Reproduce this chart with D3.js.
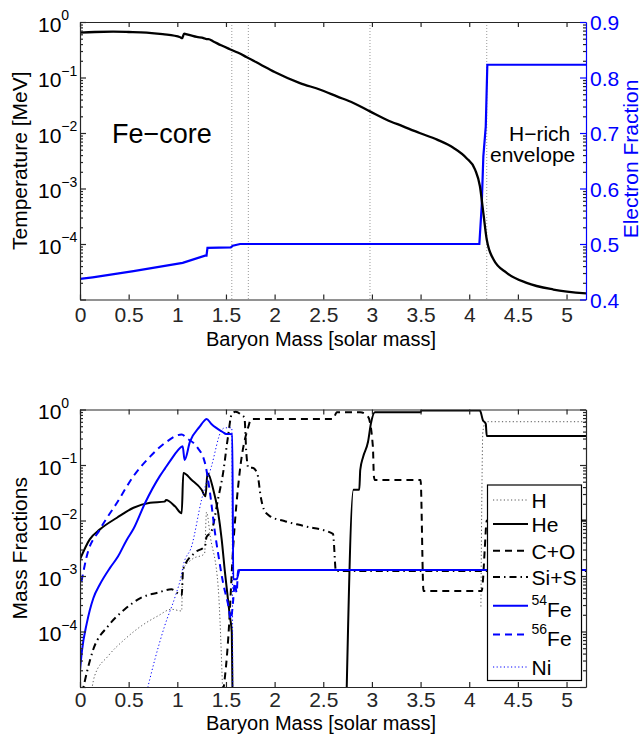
<!DOCTYPE html>
<html>
<head>
<meta charset="utf-8">
<script src="https://cdn.jsdelivr.net/npm/d3@7"></script>
<style>
  body { margin: 0; background: #fff; }
  svg { display: block; font-family: "Liberation Sans", Arial, Helvetica, sans-serif; }
</style>
</head>
<body>
<div id="chart"></div>
<script>
// ---------- values ----------
// mass coordinate in solar masses, temperatures / fractions stored as log10
const massTicks = [0, 0.5, 1, 1.5, 2, 2.5, 3, 3.5, 4, 4.5, 5];
const yeTicks = [0.4, 0.5, 0.6, 0.7, 0.8, 0.9];
const decadeExps = [-4, -3, -2, -1, 0];
const shellEdges = [1.56, 1.73, 2.98, 4.18];

const tempLog = [[0,-0.19],[0.15,-0.18],[0.34,-0.175],[0.5,-0.18],[0.685,-0.19],[0.85,-0.22],
  [1.03,-0.275],[1.05,-0.29],[1.07,-0.21],[1.08,-0.215],[1.2,-0.27],[1.27,-0.29],[1.30,-0.31],
  [1.32,-0.31],[1.37,-0.35],[1.45,-0.42],[1.54,-0.49],[1.62,-0.55],[1.71,-0.63],[1.85,-0.76],
  [2.0,-0.9],[2.26,-1.1],[2.47,-1.22],[2.64,-1.34],[2.81,-1.46],[2.98,-1.61],[3.15,-1.76],
  [3.32,-1.88],[3.49,-2.0],[3.67,-2.12],[3.84,-2.27],[3.97,-2.45],[4.06,-2.66],[4.11,-2.96],
  [4.145,-3.44],[4.18,-3.92],[4.25,-4.28],[4.385,-4.52],[4.59,-4.70],[4.865,-4.82],[5.2,-4.89]];

const yeVals = [[0,0.437],[0.13,0.44],[0.55,0.451],[1.055,0.466],[1.285,0.479],[1.30,0.479],
  [1.31,0.493],[1.55,0.494],[1.57,0.497],[1.645,0.5],[4.104,0.5],[4.128,0.568],[4.145,0.658],
  [4.17,0.712],[4.186,0.823],[5.2,0.823]];

const hLog = [[0.1,-5.3],[0.15,-4.8],[0.29,-4.44],[0.46,-4.14],[0.63,-3.9],[0.80,-3.72],[0.94,-3.6],
  [1.045,-3.63],[1.055,-2.9],[1.15,-2.7],[1.28,-2.6],[1.30,-1.85],[1.34,-2.3],[1.42,-3.2],[1.47,-5.3],
  null,[4.12,-3.55],[4.13,-1.5],[4.14,-0.4],[4.17,-0.22],[5.2,-0.22]];

const heLog = [[0,-2.7],[0.1,-2.34],[0.205,-2.16],[0.38,-1.95],[0.55,-1.77],[0.72,-1.68],[0.87,-1.66],
  [0.885,-1.63],[0.976,-1.745],[1.045,-1.87],[1.062,-1.145],[1.148,-1.27],[1.25,-1.445],[1.29,-1.565],
  [1.31,-1.145],[1.37,-1.445],[1.42,-1.86],[1.456,-2.34],[1.49,-2.94],[1.54,-3.72],[1.56,-4.02],
  [1.57,-5.5],null,[2.735,-5.5],[2.81,-1.445],[2.87,-1.445],[2.88,-1.09],[2.91,-0.85],[2.96,-0.58],
  [2.99,-0.25],[3.03,-0.05],[3.5,-0.05],[3.51,-0.02],[4.11,-0.02],[4.14,-0.19],[4.17,-0.26],
  [4.18,-0.476],[5.2,-0.476]];

const coLog = [[1.43,-5.5],[1.525,-4.08],[1.575,-2.46],[1.64,-1.145],[1.73,-0.31],[1.76,-0.17],
  [2.6,-0.17],[2.64,-0.05],[2.88,-0.05],[2.96,-0.13],[3.01,-0.67],[3.02,-1.2],[3.03,-1.27],
  [3.50,-1.27],[3.53,-3.27],[4.128,-3.27],[4.14,-3.1],[4.16,-2.5],[4.18,-2.0],[5.2,-2.0]];

const sisLog = [[0.01,-5.2],[0.137,-4.32],[0.29,-3.9],[0.46,-3.6],[0.63,-3.39],[0.80,-3.30],
  [0.94,-3.24],[1.045,-3.35],[1.06,-2.88],[1.18,-2.58],[1.285,-2.46],[1.30,-2.3],[1.35,-2.2],
  [1.42,-1.6],[1.47,-1.15],[1.52,-0.5],[1.56,-0.08],[1.60,-0.04],[1.66,-0.1],[1.69,-0.15],
  [1.71,-0.8],[1.73,-1.05],[1.77,-1.05],[1.82,-1.14],[1.86,-1.6],[1.89,-1.8],[1.95,-1.92],
  [2.1,-2.01],[2.3,-2.1],[2.6,-2.24],[2.63,-2.91],[5.2,-2.91]];

const fe54Log = [[0,-4.7],[0.02,-4.35],[0.07,-3.85],[0.137,-3.4],[0.205,-3.15],[0.31,-2.85],
  [0.39,-2.65],[0.48,-2.35],[0.55,-2.15],[0.67,-1.68],[0.82,-1.2],[0.874,-1.06],[0.925,-0.93],
  [1.045,-0.67],[1.055,-0.66],[1.075,-0.91],[1.13,-0.58],[1.23,-0.31],[1.29,-0.18],[1.30,-0.17],
  [1.35,-0.26],[1.47,-0.41],[1.50,-0.44],[1.565,-0.445],[1.575,-3.06],[1.61,-3.06],[1.64,-2.89],
  [5.2,-2.89]];

const fe56Log = [[0.015,-3.1],[0.07,-2.64],[0.205,-2.16],[0.38,-1.68],[0.55,-1.2],[0.72,-0.85],
  [0.89,-0.58],[1.045,-0.45],[1.1,-0.52],[1.2,-0.67],[1.285,-0.97],[1.336,-1.5],[1.387,-2.22],
  [1.42,-2.6],[1.47,-3.12],[1.525,-3.54],[1.55,-3.78],[1.575,-3.42],[1.59,-3.12],[1.61,-3.3],
  [1.625,-2.89],[5.2,-2.89]];

const niLog = [[0.67,-5.2],[0.77,-4.5],[0.87,-3.9],[0.98,-3.36],[1.04,-3.0],[1.06,-2.82],
  [1.148,-2.46],[1.25,-1.62],[1.35,-1.03],[1.456,-0.37],[1.49,-0.33],[1.56,-0.33],[1.57,-5.5]];

const speciesLabels = [["", "H"], ["", "He"], ["", "C+O"], ["", "Si+S"], ["54", "Fe"], ["56", "Fe"], ["", "Ni"]];

// ---------- layout ----------
const W = 642, H = 734;
const L = 80, R = 586;
const top1 = 22, bot1 = 299.5;
const top2 = 409.5, bot2 = 687;
const blue = "#0000ff", axisCol = "#262626";

let svg = d3.select("#chart").append("svg")
  .attr("width", W).attr("height", H);

let x = d3.scaleLinear().domain([0, 5.2]).range([L, R]);
let yT = d3.scaleLog().domain([1e-5, 1]).range([bot1, top1]);
let yYe = d3.scaleLinear().domain([0.4, 0.9]).range([bot1, top1]);
let yM = d3.scaleLog().domain([1e-5, 1]).range([bot2, top2]);

// minor log ticks 2..9 in each decade
let minorTicks = [];
for (let e = -5; e < 0; e++) for (let m = 2; m <= 9; m++) minorTicks.push(m * Math.pow(10, e));
let decadeTicks = [1e-5, 1e-4, 1e-3, 1e-2, 1e-1, 1];

function styleAxis(g, col) {
  g.attr("font-size", 21).attr("font-family", null).attr("color", col || axisCol);
  g.selectAll("path, line").attr("stroke-width", 1.2);
  return g;
}

// x axes (bottom labelled, top bare) and log y axes mirrored left/right
function frame(y, top, bot, xPadding, mirrorMajors) {
  styleAxis(svg.append("g").attr("transform", `translate(0,${bot})`)
    .call(d3.axisBottom(x).tickValues(massTicks).tickSize(-5).tickSizeOuter(0)
      .tickPadding(xPadding).tickFormat(d => d)));
  styleAxis(svg.append("g").attr("transform", `translate(0,${top})`)
    .call(d3.axisTop(x).tickValues(massTicks).tickSize(-5).tickSizeOuter(0).tickFormat("")));
  styleAxis(svg.append("g").attr("transform", `translate(${L},0)`)
    .call(d3.axisLeft(y).tickValues(decadeTicks).tickSize(-6).tickSizeOuter(0).tickFormat("")));
  styleAxis(svg.append("g").attr("transform", `translate(${L},0)`)
    .call(d3.axisLeft(y).tickValues(minorTicks).tickSize(-3).tickSizeOuter(0).tickFormat("")))
    .select(".domain").remove();
  if (mirrorMajors) {
    styleAxis(svg.append("g").attr("transform", `translate(${R},0)`)
      .call(d3.axisRight(y).tickValues(decadeTicks).tickSize(-6).tickSizeOuter(0).tickFormat("")));
  }
  styleAxis(svg.append("g").attr("transform", `translate(${R},0)`)
    .call(d3.axisRight(y).tickValues(minorTicks).tickSize(-3).tickSizeOuter(0).tickFormat("")))
    .select(".domain").remove();

  // 10^n labels
  decadeExps.forEach(e => {
    let t = svg.append("text")
      .attr("x", 38).attr("y", y(Math.pow(10, e)) + 9.5)
      .attr("font-size", 21).attr("fill", "#000");
    t.append("tspan").text("10");
    t.append("tspan").attr("dy", -11.5).attr("font-size", 14)
      .text(e === 0 ? "0" : "\u2212" + (-e));
  });
}

svg.append("clipPath").attr("id", "clip1").append("rect")
  .attr("x", L).attr("y", top1).attr("width", R - L).attr("height", bot1 - top1);
svg.append("clipPath").attr("id", "clip2").append("rect")
  .attr("x", L).attr("y", top2).attr("width", R - L).attr("height", bot2 - top2);

// ---------- top panel ----------
let p1 = svg.append("g").attr("clip-path", "url(#clip1)");

p1.selectAll(".shell").data(shellEdges).enter().append("line")
  .attr("x1", d => x(d)).attr("x2", d => x(d))
  .attr("y1", top1).attr("y2", bot1)
  .attr("stroke", "#999").attr("stroke-width", 1).attr("stroke-dasharray", "1,2");

p1.append("path").datum(yeVals)
  .attr("fill", "none").attr("stroke", blue).attr("stroke-width", 2.2)
  .attr("d", d3.line().x(d => x(d[0])).y(d => yYe(d[1])));

p1.append("path").datum(tempLog)
  .attr("fill", "none").attr("stroke", "#000").attr("stroke-width", 2.3)
  .attr("stroke-linejoin", "round")
  .attr("d", d3.line().curve(d3.curveMonotoneX).x(d => x(d[0])).y(d => yT(Math.pow(10, d[1]))));

frame(yT, top1, bot1, 8, false);

// blue electron-fraction axis on the right
let yeAxis = styleAxis(svg.append("g").attr("transform", `translate(${R},0)`)
  .call(d3.axisRight(yYe).tickValues(yeTicks).tickSize(-6).tickSizeOuter(0)
    .tickPadding(4).tickFormat(d3.format(".1f"))), blue);
yeAxis.selectAll("text").attr("dy", "0.38em");

svg.append("text").attr("transform", `translate(27,${(top1 + bot1) / 2}) rotate(-90)`)
  .attr("text-anchor", "middle").attr("font-size", 21).text("Temperature [MeV]");
svg.append("text").attr("transform", `translate(638,159) rotate(-90)`)
  .attr("text-anchor", "middle").attr("font-size", 21).attr("fill", blue).text("Electron Fraction");
svg.append("text").attr("x", 321).attr("y", 346)
  .attr("text-anchor", "middle").attr("font-size", 20).text("Baryon Mass [solar mass]");

svg.append("text").attr("x", 112).attr("y", 143).attr("font-size", 27).text("Fe\u2212core");
svg.append("text").attr("x", 509).attr("y", 140.5).attr("font-size", 21).text("H\u2212rich");
svg.append("text").attr("x", 490).attr("y", 162).attr("font-size", 21).text("envelope");

// ---------- bottom panel ----------
let p2 = svg.append("g").attr("clip-path", "url(#clip2)");

let species = [
  { data: hLog, color: "#555", width: 1, dash: "1.2,2.4" },
  { data: heLog, color: "#000", width: 2, dash: null },
  { data: coLog, color: "#000", width: 2, dash: "7,5" },
  { data: sisLog, color: "#000", width: 2, dash: "7,4,1.5,4" },
  { data: fe54Log, color: blue, width: 2, dash: null },
  { data: fe56Log, color: blue, width: 2, dash: "7,5" },
  { data: niLog, color: blue, width: 1, dash: "1.2,2.4" }
];

let lineM = d3.line().defined(d => d !== null).curve(d3.curveMonotoneX)
  .x(d => x(d[0])).y(d => yM(Math.pow(10, d[1])));

species.forEach(s => {
  p2.append("path").datum(s.data)
    .attr("fill", "none").attr("stroke", s.color).attr("stroke-width", s.width)
    .attr("stroke-dasharray", s.dash).attr("stroke-linejoin", "round")
    .attr("d", lineM);
});

frame(yM, top2, bot2, 5, true);

svg.append("text").attr("transform", `translate(27,${(top2 + bot2) / 2}) rotate(-90)`)
  .attr("text-anchor", "middle").attr("font-size", 21).text("Mass Fractions");
svg.append("text").attr("x", 321).attr("y", 729.8)
  .attr("text-anchor", "middle").attr("font-size", 20).text("Baryon Mass [solar mass]");

// legend
const legendRowY = [500, 524, 550.7, 577, 605.7, 634.5, 667];
let lg = svg.append("g");
lg.append("rect").attr("x", 487.5).attr("y", 485).attr("width", 94).attr("height", 195.5)
  .attr("fill", "#fff").attr("stroke", "#000").attr("stroke-width", 1.2);
species.forEach((s, i) => {
  let yy = legendRowY[i];
  lg.append("line").attr("x1", 493).attr("x2", 528).attr("y1", yy).attr("y2", yy)
    .attr("stroke", s.color).attr("stroke-width", s.width).attr("stroke-dasharray", s.dash);
  let sup = speciesLabels[i][0];
  let t = lg.append("text").attr("x", 531.5).attr("font-size", 21)
    .attr("y", yy + (sup ? 11.5 : 8));
  if (sup) {
    t.append("tspan").attr("font-size", 14).attr("dy", -12).text(sup);
    t.append("tspan").attr("dy", 12).text(speciesLabels[i][1]);
  } else {
    t.text(speciesLabels[i][1]);
  }
});
</script>
</body>
</html>
